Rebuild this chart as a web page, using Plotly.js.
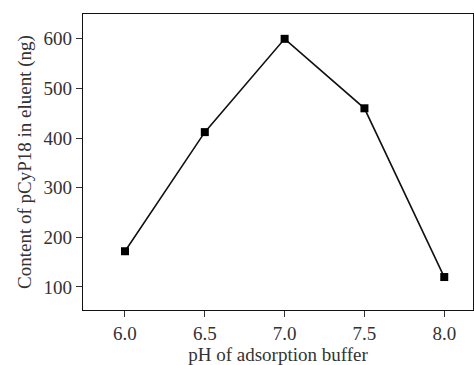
<!DOCTYPE html>
<html><head><meta charset="utf-8">
<script src="https://cdn.plot.ly/plotly-3.0.1.min.js"></script>
<style>html,body{margin:0;padding:0;background:#fff}#c{width:474px;height:365px}</style>
</head><body><div id="c"></div>
<script>
const phValues = [6.0, 6.5, 7.0, 7.5, 8.0];
const contentNg = [172, 412, 600, 460, 120];
const xTickVals = [6.0, 6.5, 7.0, 7.5, 8.0];
const xTickText = ["6.0", "6.5", "7.0", "7.5", "8.0"];
const yTickVals = [100, 200, 300, 400, 500, 600];

const font = {family: "Liberation Serif, Times New Roman, serif", size: 19, color: "#333"};
Plotly.newPlot("c", [{
  x: phValues, y: contentNg, type: "scatter", mode: "lines+markers",
  line: {color: "#111", width: 1.6},
  marker: {symbol: "square", size: 8, color: "#000"}
}], {
  width: 474, height: 365,
  margin: {l: 83, r: 1, t: 14, b: 55},
  paper_bgcolor: "#fff", plot_bgcolor: "#fff",
  font: font, showlegend: false,
  xaxis: {range: [5.737, 8.18], tickvals: xTickVals, ticktext: xTickText,
    ticks: "outside", ticklen: 6, tickcolor: "#333", showgrid: false, zeroline: false,
    showline: true, linecolor: "#111", linewidth: 1.3, mirror: true,
    title: {text: "pH of adsorption buffer", font: font, standoff: 2}},
  yaxis: {range: [53.6, 650], tickvals: yTickVals,
    ticks: "outside", ticklen: 6, tickcolor: "#333", showgrid: false, zeroline: false,
    showline: true, linecolor: "#111", linewidth: 1.3, mirror: true,
    title: {text: "Content of pCyP18 in eluent (ng)", font: font, standoff: 6}}
}, {displayModeBar: false, staticPlot: true});
</script></body></html>
